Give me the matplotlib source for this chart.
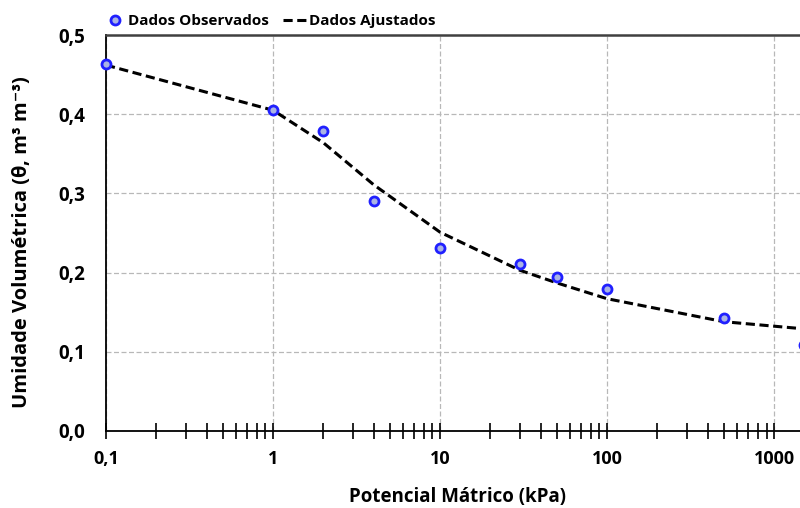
import matplotlib
matplotlib.use("Agg")
import matplotlib.pyplot as plt
from matplotlib.ticker import LogLocator, FixedLocator, NullFormatter

plt.rcParams["font.family"] = ["Open Sans", "DejaVu Sans"]
plt.rcParams["font.weight"] = "bold"

# Potencial mátrico (kPa) e umidade volumétrica
potencial = [0.1, 1, 2, 4, 10, 30, 50, 100, 500, 1500]
observado = [0.463, 0.405, 0.379, 0.290, 0.231, 0.211, 0.194, 0.179, 0.143, 0.108]
ajustado = [0.462, 0.405, 0.364, 0.311, 0.251, 0.203, 0.187, 0.167, 0.138, 0.129]

yticks = [0.0, 0.1, 0.2, 0.3, 0.4, 0.5]
xticks = [0.1, 1, 10, 100, 1000]
xlabels = ["0,1", "1", "10", "100", "1000"]

fig = plt.figure(figsize=(8.0, 5.08), dpi=100)
# o eixo continua além da borda direita (figura recortada em ~1500 kPa)
ax = fig.add_axes([0.1325, 0.1516, 1.044, 0.7795])

ax.plot(potencial, ajustado, color="black", lw=2.2, ls=(0, (3, 1.5)),
        label="Dados Ajustados", zorder=3)
ax.plot(potencial, observado, ls="none", marker="o", ms=6.5, mfc="#aab4e4",
        mec="#2020ff", mew=2.0, label="Dados Observados", zorder=4, clip_on=False)

ax.set_xscale("log")
ax.set_xlim(0.1, 10000)
ax.set_ylim(0, 0.5)
ax.xaxis.set_major_locator(FixedLocator(xticks))
ax.set_xticklabels(xlabels)
ax.xaxis.set_minor_locator(LogLocator(base=10, subs=range(2, 10), numticks=20))
ax.xaxis.set_minor_formatter(NullFormatter())
ax.set_yticks(yticks)
ax.set_yticklabels([f"{v:.1f}".replace(".", ",") for v in yticks])

ax.tick_params(axis="x", which="both", direction="inout", length=12, width=1.2,
               labelsize=13, pad=8, colors="black")
ax.tick_params(axis="y", length=0, labelsize=13.5, pad=15)
for lab in ax.get_xticklabels() + ax.get_yticklabels():
    lab.set_fontweight("bold")

ax.grid(True, which="major", color="#b8b8b8", lw=0.9, ls=(0, (4, 2)))
for side in ("left", "bottom"):
    ax.spines[side].set_color("black")
    ax.spines[side].set_linewidth(1.3)
ax.spines["top"].set_color("#404040")
ax.spines["top"].set_linewidth(1.8)
ax.spines["right"].set_visible(False)

fig.text(0.572, 0.022, "Potencial Mátrico (kPa)", ha="center", va="center",
         fontsize=13.5, fontweight="bold")
fig.text(0.028, 0.523, "Umidade Volumétrica (θ, m³ m⁻³)", rotation=90,
         ha="center", va="center", fontsize=14.5, fontweight="bold")

handles, labels = ax.get_legend_handles_labels()
leg = fig.legend(handles[::-1], labels[::-1], loc="center left",
                 bbox_to_anchor=(0.128, 0.958), ncol=2, frameon=False,
                 fontsize=11, handlelength=1.6, handletextpad=0.1,
                 columnspacing=0.9, borderaxespad=0, borderpad=0)
for t in leg.get_texts():
    t.set_fontweight("bold")

fig.savefig("out.png", dpi=100)
